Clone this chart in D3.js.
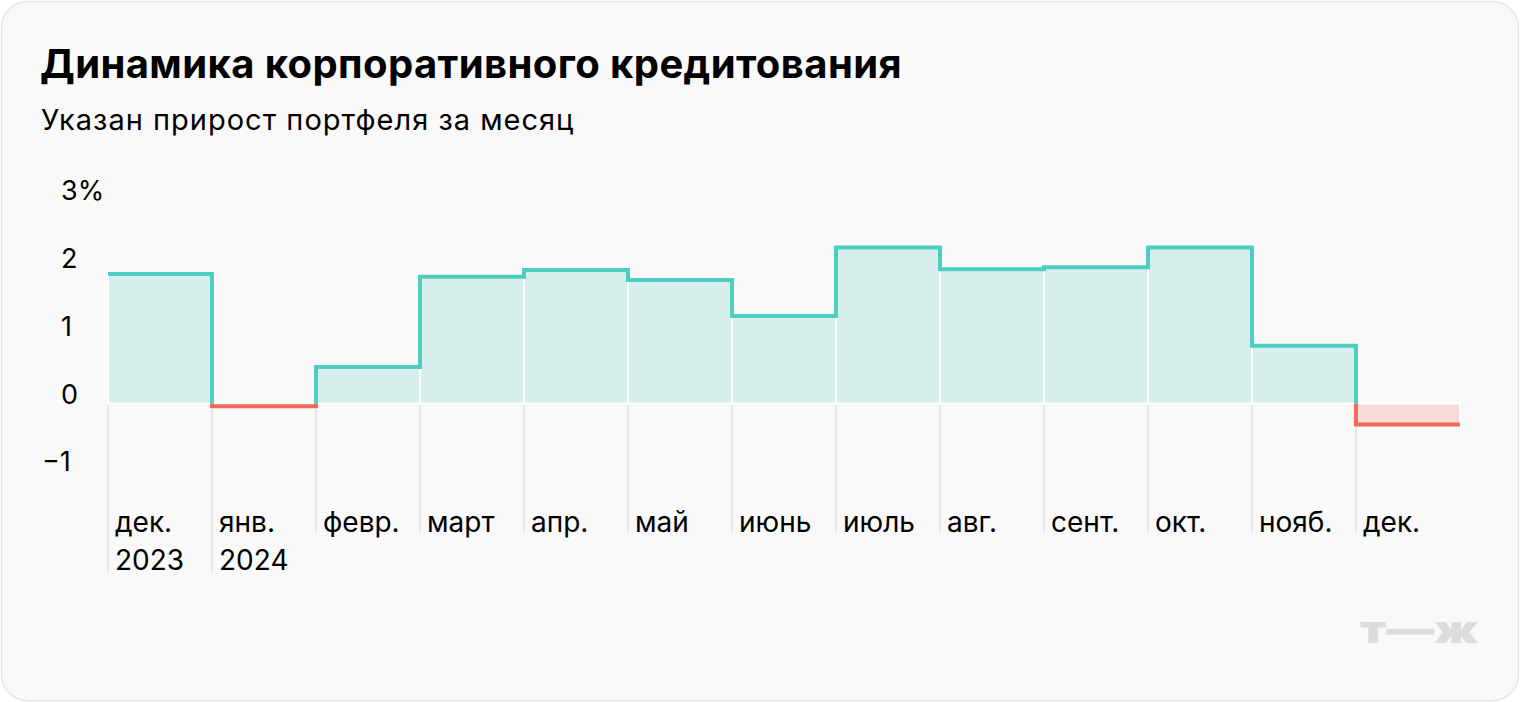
<!DOCTYPE html>
<html>
<head>
<meta charset="utf-8">
<script src="https://cdn.jsdelivr.net/npm/d3@7"></script>
<style>
  html, body { margin: 0; padding: 0; background: #ffffff; }
  svg { display: block; font-family: "Inter", "Roboto", sans-serif; }
</style>
</head>
<body>
<div class="chart"></div>
<script>
var svgWidth = 1520;
var svgHeight = 702;

// data
var months = ["дек.", "янв.", "февр.", "март", "апр.", "май", "июнь", "июль", "авг.", "сент.", "окт.", "нояб.", "дек."];
var years = ["2023", "2024", "", "", "", "", "", "", "", "", "", "", ""];
var growth = [1.91, -0.04, 0.54, 1.87, 1.97, 1.82, 1.29, 2.30, 1.98, 2.01, 2.30, 0.85, -0.31];
var yTicks = [-1, 0, 1, 2, 3];
var yTickLabels = ["−1", "0", "1", "2", "3%"];

var tealLine = "#4fcdc3";
var tealFill = "#d7efec";
var redLine = "#f26a58";
var redFill = "#f8dbd8";

var svg = d3.select(".chart")
  .append("svg")
  .attr("width", svgWidth)
  .attr("height", svgHeight);

// card background
svg.append("rect")
  .attr("x", 1.5)
  .attr("y", 1.5)
  .attr("width", svgWidth - 3)
  .attr("height", svgHeight - 3)
  .attr("rx", 26)
  .attr("fill", "#f9f9f9")
  .attr("stroke", "#e6e6e6")
  .attr("stroke-width", 1.5);

// title + subtitle
svg.append("text")
  .attr("x", 40)
  .attr("y", 78)
  .attr("font-size", 40)
  .attr("font-weight", 700)
  .attr("letter-spacing", 0.4)
  .attr("fill", "#000")
  .text("Динамика корпоративного кредитования");

svg.append("text")
  .attr("x", 41)
  .attr("y", 130)
  .attr("font-size", 29)
  .attr("letter-spacing", 1)
  .attr("fill", "#000")
  .text("Указан прирост портфеля за месяц");

// scales
var x = d3.scaleBand()
  .domain(d3.range(months.length))
  .range([108, 1460])
  .paddingInner(0)
  .paddingOuter(0);

var y = d3.scaleLinear()
  .domain([-1, 3])
  .range([471.3, 200.1]);

var y0 = y(0);

// y tick labels (baseline sits on the value)
svg.append("g")
  .selectAll("text")
  .data(yTicks)
  .enter()
  .append("text")
  .attr("x", d => d < 0 ? 42 : 61)
  .attr("y", d => y(d))
  .attr("font-size", 27)
  .attr("fill", "#000")
  .text((d, i) => yTickLabels[i]);

// vertical gridlines under the zero line
svg.append("g")
  .selectAll("line")
  .data(d3.range(months.length))
  .enter()
  .append("line")
  .attr("x1", d => x(d))
  .attr("x2", d => x(d))
  .attr("y1", y0)
  .attr("y2", d => years[d] ? 572 : 533)
  .attr("stroke", "#e2e2e2")
  .attr("stroke-width", 1.5);

// month fills
svg.append("g")
  .selectAll("rect")
  .data(growth)
  .enter()
  .append("rect")
  .attr("x", (d, i) => x(i))
  .attr("y", d => Math.min(y(d), y0))
  .attr("width", x.bandwidth())
  .attr("height", d => Math.abs(y(d) - y0))
  .attr("fill", d => d >= 0 ? tealFill : redFill)
  .attr("stroke", "#ffffff")
  .attr("stroke-width", 2);

// step line, split by sign with two clip paths
var stepPoints = growth.map((d, i) => [x(i), d]);
stepPoints.push([x.range()[1], growth[growth.length - 1]]);

var stepLine = d3.line()
  .x(d => d[0])
  .y(d => y(d[1]))
  .curve(d3.curveStepAfter);

var defs = svg.append("defs");
defs.append("clipPath")
  .attr("id", "clip-pos")
  .append("rect")
  .attr("x", 0).attr("y", 0)
  .attr("width", svgWidth).attr("height", y0);
defs.append("clipPath")
  .attr("id", "clip-neg")
  .append("rect")
  .attr("x", 0).attr("y", y0)
  .attr("width", svgWidth).attr("height", svgHeight - y0);

svg.append("path")
  .datum(stepPoints)
  .attr("d", stepLine)
  .attr("fill", "none")
  .attr("stroke", tealLine)
  .attr("stroke-width", 4)
  .attr("clip-path", "url(#clip-pos)");

svg.append("path")
  .datum(stepPoints)
  .attr("d", stepLine)
  .attr("fill", "none")
  .attr("stroke", redLine)
  .attr("stroke-width", 4)
  .attr("clip-path", "url(#clip-neg)");

// month labels
var labels = svg.append("g")
  .selectAll("text")
  .data(months)
  .enter()
  .append("text")
  .attr("x", (d, i) => x(i) + 7)
  .attr("y", 532)
  .attr("font-size", 28)
  .attr("fill", "#000");

labels.append("tspan")
  .attr("x", (d, i) => x(i) + 7)
  .text(d => d);

labels.append("tspan")
  .attr("x", (d, i) => x(i) + 7)
  .attr("dy", 38)
  .text((d, i) => years[i]);

// logo
svg.append("text")
  .attr("x", 1360)
  .attr("y", 643)
  .attr("font-size", 38)
  .attr("font-weight", 900)
  .attr("fill", "#dcdcdc")
  .attr("textLength", 118)
  .attr("lengthAdjust", "spacingAndGlyphs")
  .text("т—ж");
</script>
</body>
</html>
